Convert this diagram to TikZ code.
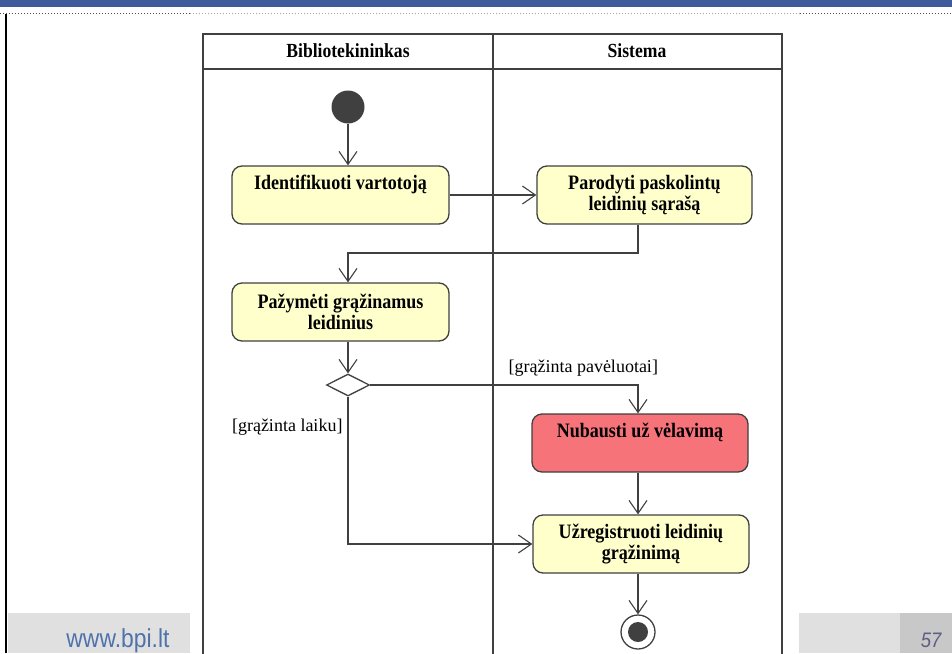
\documentclass[tikz,border=0pt]{standalone}
\usepackage{fontspec}
\setmainfont{Liberation Serif}[BoldFeatures={FakeStretch=0.88}]
\newfontfamily\footfont{Liberation Sans}[FakeStretch=0.88]
\usetikzlibrary{arrows.meta,shapes.geometric,positioning}
\definecolor{actfill}{HTML}{FFFFCC}
\definecolor{latefill}{HTML}{F7737A}
\definecolor{edge}{HTML}{404040}
\definecolor{barblue}{HTML}{3E5C9C}
\definecolor{footgray}{HTML}{E0E0E0}
\definecolor{footdark}{HTML}{C8C8C8}
\definecolor{sitecol}{HTML}{4E72AA}
\definecolor{pagecol}{HTML}{5E5E84}

\begin{document}
\begin{tikzpicture}[x=1pt,y=-1pt,
    every node/.style={font=\fontsize{18}{21}\selectfont},
    action/.style={draw=edge,line width=1.3pt,fill=actfill,rounded corners=10pt,
      minimum width=217pt,minimum height=58pt,inner sep=0pt,align=center,
      font=\fontsize{20.5}{21}\selectfont\bfseries},
    flow/.style={draw=edge,line width=1.1pt,-{Straight Barb[length=13pt,width=18pt,line width=1.1pt]}},
    lane/.style={draw=edge,line width=2.5pt}]
  \useasboundingbox (0,0) rectangle (952,653);
  \clip (0,0) rectangle (952,653);
  % slide frame
  \fill[barblue] (0,0) rectangle (952,7);
  \draw[black!70,dotted,line width=1pt] (0,13) -- (190,13) (800,13) -- (952,13);
  \draw[black!35,dotted,line width=1pt] (190,13) -- (800,13);
  \draw[black,line width=2pt] (6,14) -- (6,653);
  \fill[footgray] (8,613) rectangle (190,653);
  \fill[footgray] (799,613) rectangle (900,653);
  \fill[footdark] (900,613) rectangle (952,653);
  \node[anchor=base east,text=sitecol,font=\footfont\fontsize{26}{26}\selectfont] (site) at (173,647) {www.bpi.lt};
  \node[anchor=base east,text=pagecol,font=\footfont\itshape\fontsize{21}{21}\selectfont] (pageNo) at (945,647) {57};
  % swimlanes
  \draw[lane] (203,34) rectangle (782,690);
  \draw[lane] (203,69) -- (782,69);
  \draw[lane] (493,34) -- (493,690);
  \node[anchor=base,font=\fontsize{20}{21}\selectfont\bfseries] (libHead) at (348,57) {Bibliotekininkas};
  \node[anchor=base,font=\fontsize{20}{21}\selectfont\bfseries] (sysHead) at (637,57) {Sistema};
  % activities
  \node[circle,fill=edge,minimum size=33pt,inner sep=0pt] (init) at (348,107) {};
  \node[action] (ident) at (340.5,195) {Identifikuoti vartotoją\\\phantom{ą}};
  \node[action,minimum width=215pt] (parodyti) at (644.5,195) {Parodyti paskolintų\\leidinių sąrašą};
  \node[action] (pazymeti) at (340.5,312) {Pažymėti grąžinamus\\leidinius};
  \node[diamond,draw=edge,line width=1.3pt,fill=white,minimum width=43pt,minimum height=22pt,inner sep=0pt] (dec) at (348,385) {};
  \node[action,fill=latefill,minimum width=216pt] (nubausti) at (640,443) {Nubausti už vėlavimą\\\phantom{ą}};
  \node[action,minimum width=216pt] (uzreg) at (641,544) {Užregistruoti leidinių\\grąžinimą};
  \node[circle,draw=edge,line width=1.3pt,fill=white,minimum size=34pt,inner sep=0pt] (final) at (638,632) {};
  \fill[edge] (final) circle (10pt);
  % guards
  \node[anchor=base west] (lateLbl) at (505,372) {[grąžinta pavėluotai]};
  \node[anchor=base east] (onTimeLbl) at (346,431) {[grąžinta laiku]};
  % flows
  \draw[flow] (init) -- (init |- ident.north);
  \draw[flow] (ident.east) -- (parodyti.west);
  \draw[flow] (parodyti.south -| 638,0) |- (348,253) -- (pazymeti.north -| init);
  \draw[flow] (pazymeti.south -| init) -- (dec.north);
  \draw[flow] (dec.east) -| (nubausti.north -| final);
  \draw[flow] (dec.south) |- (uzreg.west);
  \draw[flow] (nubausti.south -| final) -- (uzreg.north -| final);
  \draw[flow] (uzreg.south -| final) -- (final);
\end{tikzpicture}
\end{document}
